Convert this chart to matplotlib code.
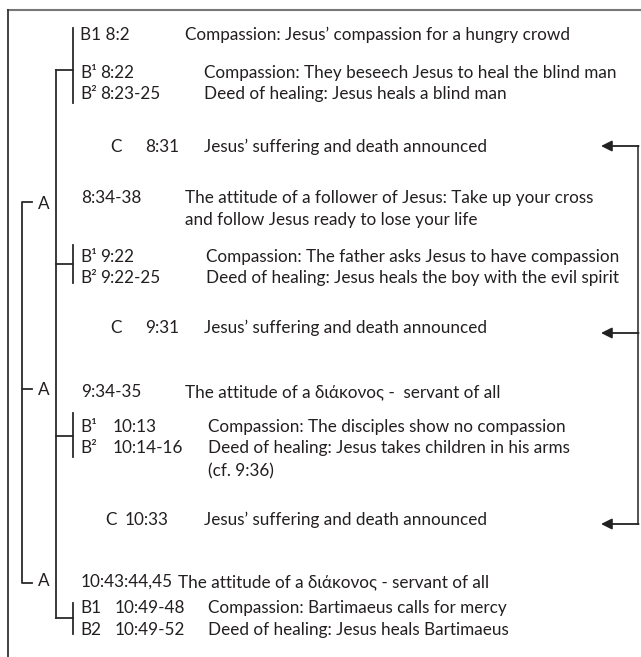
import matplotlib.pyplot as plt

plt.rcParams['font.family'] = ['Lato', 'DejaVu Sans']

# rows of the chiastic outline: tag, reference, description
tags = ['B1', 'B¹', 'B²', 'C', '', '', 'B¹', 'B²', 'C', '', 'B¹', 'B²', '', 'C', '', 'B1', 'B2']
refs = ['8:2', '8:22', '8:23-25', '8:31', '8:34-38', '', '9:22', '9:22-25', '9:31',
        '9:34-35', '10:13', '10:14-16', '', '10:33', '10:43:44,45', '10:49-48', '10:49-52']
texts = [
    'Compassion: Jesus\u2019 compassion for a hungry crowd',
    'Compassion: They beseech Jesus to heal the blind man',
    'Deed of healing: Jesus heals a blind man',
    'Jesus\u2019 suffering and death announced',
    'The attitude of a follower of Jesus: Take up your cross',
    'and follow Jesus ready to lose your life',
    'Compassion: The father asks Jesus to have compassion',
    'Deed of healing: Jesus heals the boy with the evil spirit',
    'Jesus\u2019 suffering and death announced',
    'The attitude of a \u03b4\u03b9\u03ac\u03ba\u03bf\u03bd\u03bf\u03c2 -  servant of all',
    'Compassion: The disciples show no compassion',
    'Deed of healing: Jesus takes children in his arms',
    '(cf. 9:36)',
    'Jesus\u2019 suffering and death announced',
    'The attitude of a \u03b4\u03b9\u03ac\u03ba\u03bf\u03bd\u03bf\u03c2 - servant of all',
    'Compassion: Bartimaeus calls for mercy',
    'Deed of healing: Jesus heals Bartimaeus',
]
a_labels = ['A', 'A', 'A']

# layout (pixel space, y downwards)
baselines = [40, 78, 99, 152, 203, 225, 262, 283, 333, 397, 432, 453, 476, 525, 587, 613, 635]
tag_x = [80, 80, 80, 110, None, None, 80, 80, 110, None, 80, 80, None, 105, None, 80, 80]
ref_x = [101, 100, 100, 145, 81, None, 100, 100, 145, 81, 113, 113, None, 125, 81, 115, 115]
text_x = [185, 204, 204, 204, 185, 185, 206, 206, 204, 185, 208, 208, 208, 204, 178, 208, 208]
a_y = [209, 395, 586]

ink = '#231f20'
fs = 12.3

fig = plt.figure(figsize=(6.41, 6.57), dpi=100)
ax = fig.add_axes([0, 0, 1, 1])
ax.set_xlim(0, 641)
ax.set_ylim(657, 0)
ax.axis('off')

for i in range(len(texts)):
    y = baselines[i]
    if i == 0:
        ax.text(tag_x[i], y, tags[i] + ' ' + refs[i], fontsize=fs, color=ink, va='baseline')
    else:
        if tags[i]:
            ax.text(tag_x[i], y, tags[i], fontsize=fs, color=ink, va='baseline')
        if refs[i]:
            ax.text(ref_x[i], y, refs[i], fontsize=fs, color=ink, va='baseline')
    ax.text(text_x[i], y, texts[i], fontsize=fs, color=ink, va='baseline')

for lab, y in zip(a_labels, a_y):
    ax.text(38, y, lab, fontsize=fs, color=ink, va='baseline')

lc = '#2a2a2a'
lw = 1.3
# frame
ax.plot([8, 641], [10, 10], color='#777777', lw=1.5)
ax.plot([8, 8], [10, 657], color='#333333', lw=1.3)

# B brackets
for top, bot, mid in [(28, 103, 70), (245, 283, 264), (413, 457, 436), (603, 634, 618)]:
    ax.plot([73, 73], [top, bot], color=lc, lw=lw)
    ax.plot([56, 73], [mid, mid], color=lc, lw=lw)
ax.plot([56, 56], [70, 618], color=lc, lw=lw)

# A bracket
ax.plot([32, 22, 22, 32], [202, 202, 583, 583], color=lc, lw=lw)
ax.plot([22, 32], [389, 389], color=lc, lw=lw)

# arrows to the C passages
arrow_y = [146, 333, 524]
ax.plot([638, 638], [arrow_y[0], arrow_y[-1]], color='#444444', lw=1.3)
for y in arrow_y:
    ax.annotate('', xy=(601, y), xytext=(638.6, y),
                arrowprops=dict(arrowstyle='-|>', color='#222222', lw=1.3,
                                mutation_scale=16, shrinkA=0, shrinkB=0))

fig.savefig('out.png', dpi=100)
